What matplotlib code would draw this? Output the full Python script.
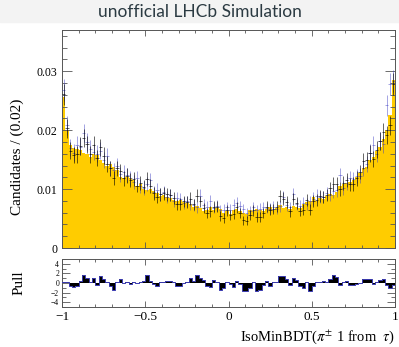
import numpy as np
import matplotlib.pyplot as plt
from matplotlib.ticker import FixedLocator

# binning: 100 bins of 0.02 on [-1, 1]
edges = np.linspace(-1, 1, 101)
centers = 0.5 * (edges[:-1] + edges[1:])

# simulation template (gold), in units of 1e-3
gold = [25.6, 20.0, 17.5, 17.0, 16.8, 16.6, 16.2, 16.0, 15.5, 16.0,
        15.8, 15.0, 14.5, 14.0, 14.2, 13.8, 13.2, 12.0, 11.8, 12.0,
        11.8, 11.5, 10.5, 10.8, 10.0, 9.8, 10.0, 9.6, 9.3, 8.8,
        9.0, 8.7, 8.5, 8.2, 8.0, 8.2, 7.8, 7.6, 7.4, 7.0,
        7.2, 6.8, 6.2, 6.5, 7.0, 6.4, 6.8, 6.6, 6.0, 6.2,
        5.8, 6.4, 6.6, 6.2, 6.0, 5.8, 6.4, 6.2, 6.6, 6.5,
        6.2, 6.6, 7.0, 6.4, 6.8, 7.3, 6.8, 7.0, 6.6, 7.2,
        7.0, 6.8, 7.5, 7.8, 8.0, 8.6, 8.0, 8.5, 8.3, 8.8,
        9.2, 9.0, 9.5, 10.5, 10.8, 11.0, 11.2, 11.5, 12.0, 12.8,
        13.5, 13.8, 15.0, 15.5, 16.5, 17.2, 18.5, 20.0, 22.5, 28.5]

# black points (data used for the pull)
black = [26.1, 20.3, 16.5, 15.8, 15.9, 17.3, 18.6, 17.6, 15.9, 17.5,
         15.3, 17.1, 15.7, 14.3, 13.5, 11.9, 13.5, 13.0, 11.8, 12.3,
         11.5, 11.7, 10.6, 11.1, 10.4, 11.7, 10.5, 9.3, 8.6, 9.1,
         9.3, 9.1, 9.0, 8.5, 7.4, 7.5, 7.9, 7.8, 8.4, 7.4,
         8.9, 7.9, 6.8, 5.9, 6.2, 7.0, 7.0, 5.4, 5.1, 6.4,
         5.6, 5.7, 6.9, 6.0, 4.7, 4.6, 5.6, 6.4, 5.3, 5.3,
         5.9, 7.0, 6.5, 6.6, 7.0, 8.8, 8.4, 7.8, 6.2, 8.3,
         7.6, 6.3, 6.5, 8.1, 6.5, 8.0, 8.2, 8.8, 8.7, 9.0,
         10.1, 10.9, 10.9, 10.0, 11.1, 11.6, 10.8, 10.9, 11.8, 12.9,
         14.7, 14.9, 16.1, 15.1, 16.7, 18.2, 19.7, 19.2, 20.8, 27.9]

# blue points
blue = [26.8, 20.8, 17.0, 16.2, 17.5, 17.2, 19.5, 18.0, 16.8, 16.3,
        16.0, 16.5, 15.0, 15.6, 13.5, 13.2, 14.0, 12.5, 12.9, 12.4,
        11.9, 11.2, 11.8, 10.5, 10.2, 10.9, 11.5, 9.5, 9.9, 9.1,
        9.5, 8.6, 9.0, 8.0, 8.5, 8.3, 7.6, 7.9, 7.5, 7.3,
        6.9, 8.9, 7.3, 7.0, 8.0, 6.8, 7.2, 6.4, 6.5, 6.9,
        6.5, 7.3, 7.6, 7.1, 6.6, 6.0, 6.3, 6.9, 6.4, 6.7,
        6.9, 6.8, 6.7, 7.0, 6.6, 7.1, 8.6, 7.3, 6.9, 9.1,
        7.4, 7.2, 7.7, 7.5, 7.9, 8.4, 8.9, 8.6, 8.7, 9.3,
        9.0, 9.6, 9.8, 12.4, 10.2, 11.0, 11.9, 11.7, 12.2, 12.3,
        13.6, 14.2, 16.2, 17.5, 16.0, 18.2, 17.6, 24.2, 27.8, 28.4]

x_major = [-1, -0.5, 0, 0.5, 1]
x_labels = ['\u22121', '\u22120.5', '0', '0.5', '1']
x_minor = [round(-1 + 0.1 * k, 1) for k in range(21)]

n_events = 8000  # effective sample size for Poisson errors

gold = np.array(gold) * 1e-3
black = np.array(black) * 1e-3
blue = np.array(blue) * 1e-3
err_black = np.sqrt(black / n_events)
err_blue = np.sqrt(blue / n_events)
pull = (black - gold) / err_black

plt.rcParams['font.family'] = ['Liberation Serif', 'DejaVu Serif']
plt.rcParams['mathtext.fontset'] = 'stix'

fig = plt.figure(figsize=(3.99, 3.47), dpi=100)
fig.patches.append(plt.Rectangle((0, 0.937), 1, 0.063, transform=fig.transFigure,
                                 color='#f3f3f3', zorder=0))
fig.text(0.5, 0.965, 'unofficial LHCb Simulation', ha='center', va='center',
         fontsize=12.5, color='#2b3a42', family=['Lato', 'DejaVu Sans'])

ax = fig.add_axes([0.1554, 0.2853, 0.8346, 0.6282])
ax2 = fig.add_axes([0.1554, 0.1153, 0.8346, 0.1383])

frame_col = '#555555'

ax.hist(centers, bins=edges, weights=gold, histtype='stepfilled', color='#ffcc00', zorder=1)
ax.errorbar(centers, blue, xerr=0.01, yerr=err_blue, fmt='none', ecolor='#3535c0',
            elinewidth=0.7, alpha=0.45, zorder=3)
ax.errorbar(centers, black, xerr=0.01, yerr=err_black, fmt='none', ecolor='black',
            elinewidth=0.7, alpha=0.6, zorder=4)

ax.set_xlim(-1, 1)
ax.set_ylim(0, 0.037)
ax.set_xticks(x_major)
ax.set_xticks(x_minor, minor=True)
ax.set_xticklabels([])
ax.set_yticks([0, 0.01, 0.02, 0.03])
ax.set_yticks([0.002 * k for k in range(19)], minor=True)
ax.set_yticklabels(['0', '0.01', '0.02', '0.03'])
ax.tick_params(axis='both', which='both', direction='in', top=True, right=True,
               color=frame_col, width=0.6, labelsize=8.5)
ax.tick_params(axis='y', which='major', length=7)
ax.tick_params(axis='y', which='minor', length=3.6)
ax.tick_params(axis='x', which='major', length=4.5)
ax.tick_params(axis='x', which='minor', length=2.4)
ax.set_ylabel('Candidates / (0.02)', fontsize=11)
ax.yaxis.set_label_coords(-0.115, 0.42)

ax2.bar(centers, pull, width=0.02, color='black', zorder=2)
ax2.step(edges, np.append(pull, pull[-1]), where='post', color='#3a3ab0', lw=0.7, zorder=3)
ax2.set_xlim(-1, 1)
ax2.set_ylim(-5, 5)
ax2.set_xticks(x_major)
ax2.set_xticks(x_minor, minor=True)
ax2.set_xticklabels(x_labels)
ax2.yaxis.set_major_locator(FixedLocator([-4, -2, 0, 2, 4]))
ax2.yaxis.set_minor_locator(FixedLocator([-5, -3, -1, 1, 3, 5]))
ax2.set_yticklabels(['\u22124', '\u22122', '0', '2', '4'])
ax2.tick_params(axis='both', which='both', direction='in', top=True, right=True,
                color=frame_col, width=0.6)
ax2.tick_params(axis='x', labelsize=9.5, pad=3)
ax2.tick_params(axis='y', labelsize=5.5, pad=2)
ax2.tick_params(axis='y', which='major', length=6)
ax2.tick_params(axis='y', which='minor', length=3)
ax2.tick_params(axis='x', which='major', length=4.5)
ax2.tick_params(axis='x', which='minor', length=2.4)
ax2.set_ylabel('Pull', fontsize=11)
ax2.yaxis.set_label_coords(-0.11, 0.5)
ax2.set_xlabel(r'IsoMinBDT($\pi^{\pm}$ 1 from  $\tau$)', fontsize=10.5, loc='right')

for a in (ax, ax2):
    for s in a.spines.values():
        s.set_color(frame_col)
        s.set_linewidth(0.7)

fig.savefig('out.png', dpi=100)
